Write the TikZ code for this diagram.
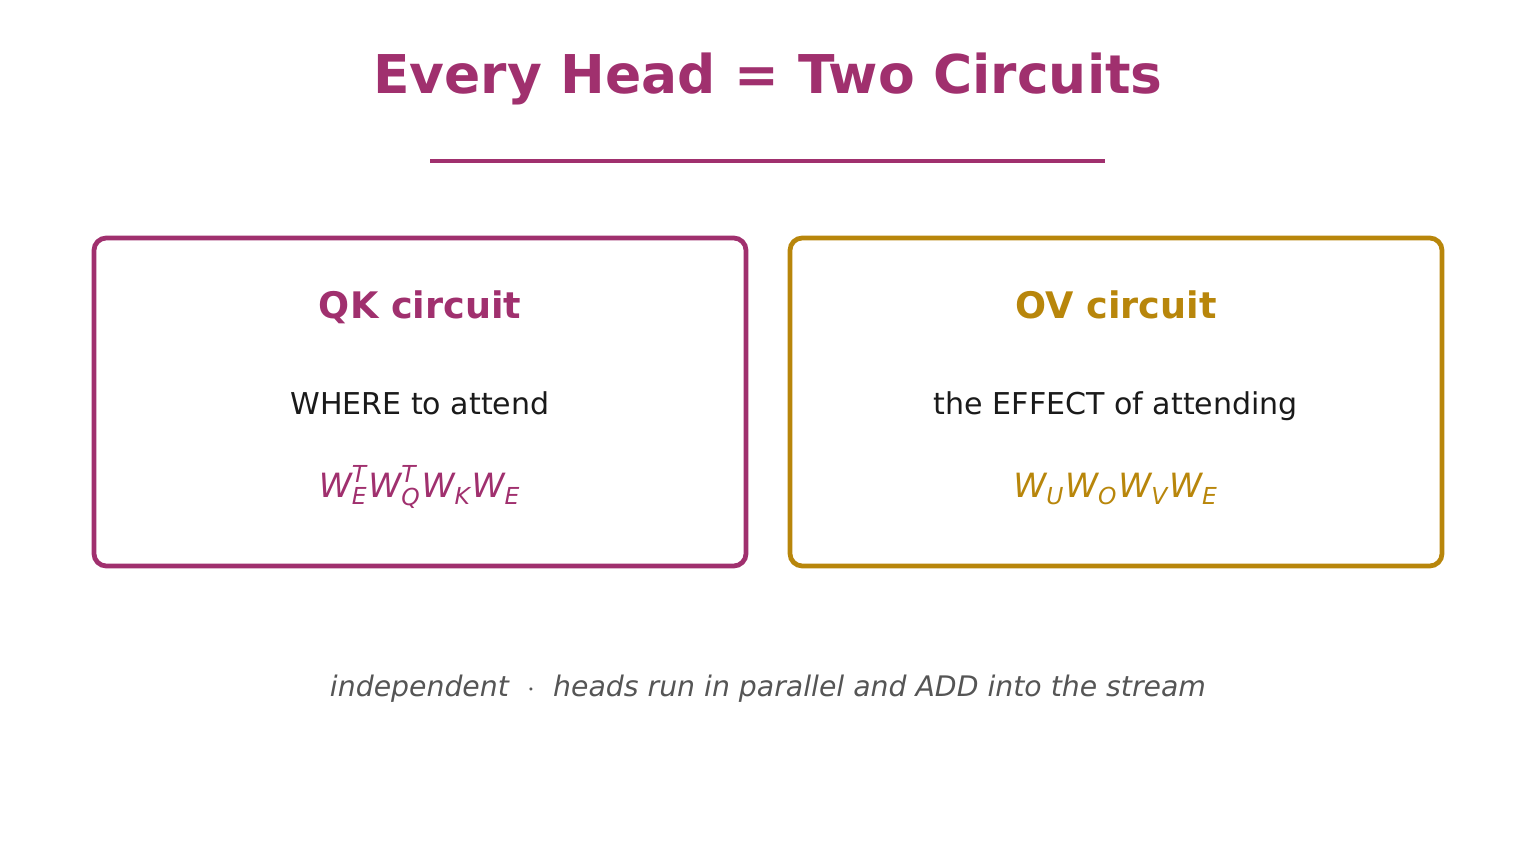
\documentclass[tikz,border=0pt]{standalone}
\usepackage{amsmath}
\usepackage{fontspec}
\setmainfont{DejaVu Sans}
\definecolor{qkcol}{HTML}{A0306E}
\definecolor{ovcol}{HTML}{B8860B}
\definecolor{bodycol}{HTML}{1A1A1A}
\definecolor{notecol}{HTML}{555555}
\newcommand{\iw}[1]{\text{\itshape #1}}
\begin{document}
\begin{tikzpicture}[x=0.01cm,y=-0.01cm]
    \useasboundingbox (0,0) rectangle (1536,864);

    \node[qkcol, anchor=base, font=\fontsize{15.2}{18}\selectfont\bfseries] (title) at (768,94) {Every Head = Two Circuits};
    \draw [qkcol, line width=1pt] (430,161) -- (1105,161);

    \draw [qkcol, line width=1.35pt, rounded corners=3.5pt] (94,238) rectangle (746,566);
    \draw [ovcol, line width=1.35pt, rounded corners=3.5pt] (790,238) rectangle (1442,566);

    \node[qkcol, anchor=base, font=\fontsize{10.4}{12}\selectfont\bfseries] (qkhead) at (420,319) {QK circuit};
    \node[bodycol, anchor=base, font=\fontsize{8.55}{10}\selectfont] (qkbody) at (420,415) {WHERE to attend};
    \node[qkcol, anchor=base, font=\fontsize{9.5}{11}\selectfont] (qkform) at (420,498)
      {$\iw{W}_{\iw{E}}^{\iw{T}}\iw{W}_{\iw{Q}}^{\iw{T}}\iw{W}_{\iw{K}}\iw{W}_{\iw{E}}$};

    \node[ovcol, anchor=base, font=\fontsize{10.4}{12}\selectfont\bfseries] (ovhead) at (1116,319) {OV circuit};
    \node[bodycol, anchor=base, font=\fontsize{8.55}{10}\selectfont] (ovbody) at (1116,415) {the EFFECT of attending};
    \node[ovcol, anchor=base, font=\fontsize{9.5}{11}\selectfont] (ovform) at (1116,498)
      {$\iw{W}_{\iw{U}}\iw{W}_{\iw{O}}\iw{W}_{\iw{V}}\iw{W}_{\iw{E}}$};

    \node[notecol, anchor=base, font=\fontsize{8.05}{10}\selectfont\itshape] (note) at (768,696)
      {independent \ $\cdot$ \ heads run in parallel and ADD into the stream};
  \end{tikzpicture}
\end{document}
